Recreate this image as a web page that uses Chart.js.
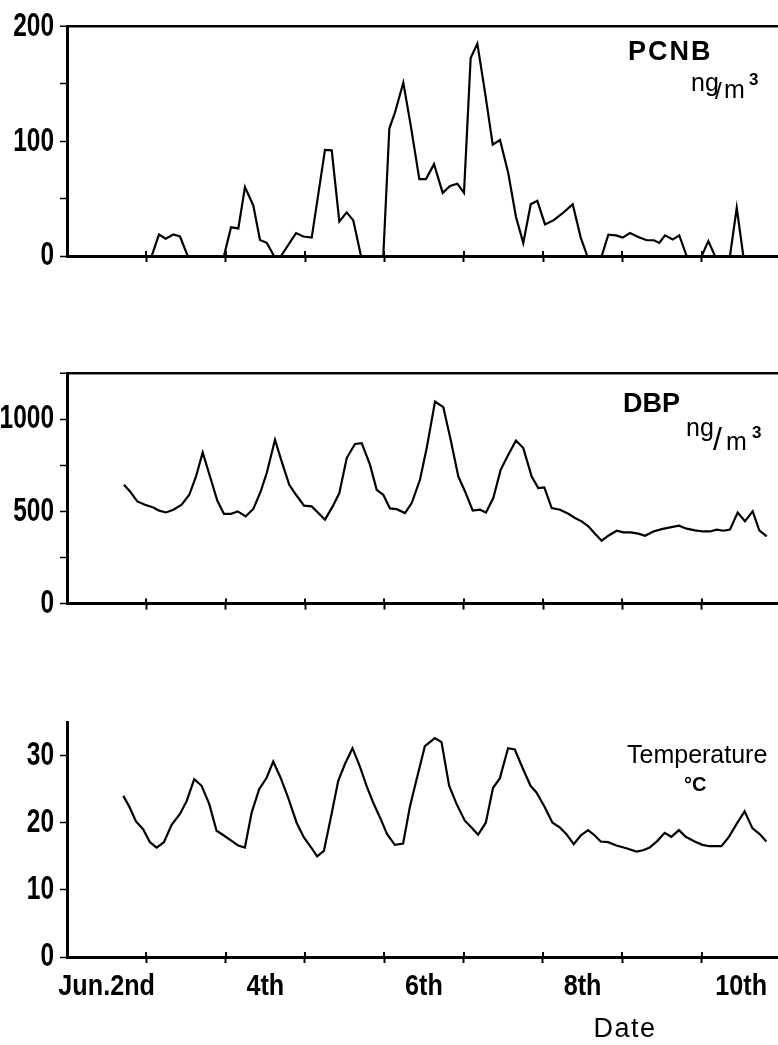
<!DOCTYPE html>
<html><head><meta charset="utf-8">
<script src="https://cdn.jsdelivr.net/npm/chart.js@4.4.0/dist/chart.umd.min.js"></script>
<style>
html,body{margin:0;padding:0;background:#fff;}
#wrap{position:relative;width:778px;height:1045px;overflow:hidden;background:#fff;}
canvas{position:absolute;left:0;}
</style></head><body>
<div id="wrap">
<canvas id="c1" width="778" height="300" style="top:0px"></canvas>
<canvas id="c2" width="778" height="300" style="top:330px"></canvas>
<canvas id="c3" width="778" height="355" style="top:690px"></canvas>
</div>
<script>
// ---- x axis (days of June) ----
const dayTicks = [2, 3, 4, 5, 6, 7, 8, 9, 10];
const dayLabelPos = [2.5, 4.5, 6.5, 8.5, 10.5];
const dayLabels = ['Jun.2nd', '4th', '6th', '8th', '10th'];
const xMin = 2, xMax = 10.96;

// ---- PCNB (ng/m3) ----
const pcnbDays = [2.706,3.067,3.159,3.244,3.340,3.424,3.521,3.978,4.067,4.159,4.243,4.348,4.432,4.517,4.609,4.697,4.886,4.978,5.084,5.251,5.336,5.432,5.525,5.608,5.705,5.986,6.062,6.133,6.238,6.331,6.440,6.524,6.625,6.735,6.827,6.919,7.003,7.087,7.171,7.268,7.365,7.457,7.561,7.658,7.750,7.844,7.927,8.024,8.129,8.234,8.373,8.474,8.557,8.738,8.822,8.918,9.003,9.095,9.200,9.305,9.397,9.464,9.536,9.633,9.716,9.809,9.998,10.082,10.166,10.355,10.440,10.523,10.822];
const pcnbValues = [0,0,18.7,15,18.7,17,0,0,25,24,60,44,14,11.5,0,0,20,17,16,92.5,92,30,38,31,0,0,111,125,151,114,67,67,80,55,61,63,55,172.5,185,142.5,97,101,72,34,11.4,45,48,27.5,31,36.6,45,16,0,0,18.6,18,16,20,16.6,13.7,13.7,11.4,18,14.3,18,0,0,13,0,0,42,0,0];

// ---- DBP (ng/m3) ----
const dbpDays = [2.718,2.794,2.886,2.983,3.088,3.163,3.248,3.340,3.445,3.541,3.626,3.710,3.802,3.894,3.978,4.063,4.151,4.252,4.348,4.441,4.517,4.621,4.706,4.801,4.886,4.987,5.084,5.167,5.251,5.348,5.432,5.525,5.629,5.714,5.818,5.903,5.986,6.070,6.155,6.259,6.344,6.448,6.533,6.638,6.742,6.835,6.931,7.016,7.113,7.205,7.280,7.372,7.465,7.561,7.658,7.750,7.856,7.939,8.015,8.108,8.213,8.318,8.402,8.486,8.570,8.654,8.738,8.822,8.927,9.011,9.104,9.200,9.284,9.389,9.495,9.599,9.712,9.809,9.914,10.019,10.103,10.188,10.271,10.355,10.452,10.544,10.641,10.724,10.818];
const dbpValues = [644,608,554,536,521,504,494,509,536,590,689,819,689,559,486,486,500,473,513,608,708,888,770,644,590,531,527,491,455,527,599,789,865,870,753,617,590,516,512,491,545,671,843,1095,1065,888,689,608,504,509,494,572,725,807,884,843,689,626,630,518,509,487,464,446,419,379,341,368,395,386,386,379,368,391,404,413,422,406,397,391,391,401,395,401,494,446,500,397,364];

// ---- Temperature (deg C) ----
const tempDays = [2.710,2.785,2.870,2.962,3.046,3.130,3.222,3.319,3.424,3.508,3.604,3.697,3.793,3.886,3.978,4.076,4.159,4.243,4.328,4.423,4.517,4.600,4.693,4.789,4.895,4.987,5.084,5.154,5.239,5.336,5.419,5.503,5.600,5.692,5.777,5.860,5.953,6.036,6.133,6.238,6.322,6.398,6.512,6.638,6.722,6.818,6.911,7.016,7.100,7.183,7.280,7.372,7.457,7.561,7.646,7.750,7.844,7.919,8.024,8.121,8.213,8.297,8.389,8.477,8.570,8.654,8.729,8.822,8.927,9.053,9.179,9.263,9.347,9.444,9.536,9.620,9.716,9.801,9.914,10.011,10.103,10.251,10.346,10.447,10.544,10.641,10.733,10.818];
const tempValues = [24.0,22.4,20.2,19.0,17.1,16.3,17.1,19.7,21.3,23.2,26.5,25.5,22.8,18.8,18.1,17.3,16.6,16.3,21.5,25.0,26.7,29.1,26.7,23.7,20.0,17.8,16.2,15.0,15.8,21.3,26.2,28.7,31.1,28.4,25.5,23.0,20.6,18.3,16.7,16.9,22.3,26.0,31.4,32.6,32.0,25.5,22.8,20.3,19.3,18.2,20.0,25.2,26.6,31.1,30.9,28.0,25.5,24.5,22.3,20.0,19.3,18.3,16.8,18.1,18.9,18.1,17.2,17.1,16.6,16.2,15.7,15.9,16.3,17.3,18.5,17.9,18.9,17.9,17.2,16.7,16.5,16.5,17.9,19.9,21.7,19.2,18.3,17.2];

// ---- y axis ticks ----
const pcnbYTicks = [0, 50, 100, 150, 200];
const pcnbYLabels = [0, 100, 200];
const dbpYTicks = [0, 250, 500, 750, 1000, 1250];
const dbpYLabels = [0, 500, 1000];
const tempYTicks = [0, 5, 10, 15, 20, 25, 30, 35];
const tempYLabels = [0, 10, 20, 30];

const SANS = '"Liberation Sans","Helvetica",Arial,sans-serif';

function xy(days, vals){ return days.map((d,i)=>({x:d, y:vals[i]})); }

// squeeze tick label glyphs horizontally (condensed look) around their anchor
function condenseLabels(scale, sx){
  if (scale._condensed) return;
  const orig = scale.drawLabels;
  scale.drawLabels = function(ca){
    const ctx = this.ctx;
    const f = CanvasRenderingContext2D.prototype.fillText;
    ctx.fillText = function(t, x, y){ this.save(); this.translate(x, y); this.scale(sx, 1); f.call(this, t, 0, 0); this.restore(); };
    try { orig.call(this, ca); } finally { delete ctx.fillText; }
  };
  scale._condensed = true;
}

function makeChart(id, days, vals, yTicks, yLabels, opts){
  const yMax = yTicks[yTicks.length-1];
  const xTickVals = opts.showXLabels ? dayTicks.concat(dayLabelPos).sort((a,b)=>a-b) : dayTicks.slice();
  const panelPlugin = {
    id: 'panel_'+id,
    afterLayout(chart){
      condenseLabels(chart.scales.y, 0.72);
      condenseLabels(chart.scales.x, 0.84);
    },
    afterDraw(chart){
      const c = chart.ctx;
      c.save();
      // inner part of the x tick marks (they cross the axis)
      const xs = chart.scales.x;
      c.strokeStyle = '#000'; c.lineWidth = 2;
      dayTicks.forEach(v=>{
        if (v === xMin) return;
        const px = Math.round(xs.getPixelForValue(v));
        c.beginPath(); c.moveTo(px, xs.top); c.lineTo(px, xs.top - 5); c.stroke();
      });
      c.fillStyle = '#000';
      c.textBaseline = 'alphabetic';
      opts.texts.forEach(t=>{
        c.font = t.font;
        c.letterSpacing = t.ls || '0px';
        c.textAlign = t.align || 'left';
        c.fillText(t.text, t.x, t.y);
      });
      c.restore();
    }
  };
  return new Chart(document.getElementById(id), {
    type: 'line',
    data: { datasets: [{
      data: xy(days, vals),
      borderColor: '#000', borderWidth: 2.2, pointRadius: 0, tension: 0, fill: false
    }]},
    options: {
      responsive: false, animation: false, devicePixelRatio: 1,
      layout: { padding: { top: opts.padTop, left: 0, right: 0, bottom: 0 } },
      plugins: { legend: {display:false}, tooltip: {enabled:false}, title:{display:false} },
      scales: {
        x: {
          type: 'linear', min: xMin, max: xMax,
          afterBuildTicks: s => { s.ticks = xTickVals.map(v=>({value:v})); },
          afterFit: s => { s.height = opts.xHeight; },
          ticks: {
            autoSkip: false, maxRotation: 0, minRotation: 0, padding: 6, color: '#000',
            font: { family: SANS, size: 30, weight: 'bold' },
            callback: v => { const i = dayLabelPos.indexOf(v); return (opts.showXLabels && i >= 0) ? dayLabels[i] : ''; }
          },
          grid: {
            display: true, drawOnChartArea: false, drawTicks: true, tickLength: 6, tickWidth: 2,
            color: 'rgba(0,0,0,0)',
            tickColor: ctx => (ctx.tick && Number.isInteger(ctx.tick.value) && ctx.tick.value > xMin) ? '#000' : 'rgba(0,0,0,0)'
          },
          border: { display: true, color: '#000', width: 3 }
        },
        y: {
          min: 0, max: yMax,
          afterBuildTicks: s => { s.ticks = yTicks.map(v=>({value:v})); },
          afterFit: s => { s.width = 67; },
          ticks: {
            padding: 6, color: '#000',
            font: { family: SANS, size: 34, weight: 'bold' },
            callback: v => yLabels.includes(v) ? String(v) : ''
          },
          grid: {
            display: true, drawOnChartArea: true, drawTicks: true, tickLength: 7, tickWidth: 1.5,
            color: ctx => (ctx.tick && ctx.tick.value === yMax) ? '#000' : 'rgba(0,0,0,0)',
            lineWidth: ctx => (ctx.tick && ctx.tick.value === yMax) ? 2.5 : 1,
            tickColor: '#000'
          },
          border: { display: true, color: '#000', width: 3 }
        }
      }
    },
    plugins: [panelPlugin]
  });
}

makeChart('c1', pcnbDays, pcnbValues, pcnbYTicks, pcnbYLabels, {
  padTop: 24, xHeight: 44, showXLabels: false,
  texts: [
    {text:'PCNB', x:628, y:60, font:'bold 27px '+SANS, ls:'2px'},
    {text:'ng', x:691, y:91, font:'25px '+SANS},
    {text:'/', x:715, y:99, font:'24px '+SANS},
    {text:'m', x:724, y:98, font:'25px '+SANS},
    {text:'3', x:749, y:85, font:'bold 17px '+SANS}
  ]
});
makeChart('c2', dbpDays, dbpValues, dbpYTicks, dbpYLabels, {
  padTop: 43, xHeight: 26, showXLabels: false,
  texts: [
    {text:'DBP', x:623, y:82, font:'bold 27px '+SANS},
    {text:'ng', x:686, y:106, font:'25px '+SANS},
    {text:'/', x:713, y:120, font:'32px '+SANS},
    {text:'m', x:726, y:120, font:'25px '+SANS},
    {text:'3', x:752, y:108, font:'bold 17px '+SANS}
  ]
});
makeChart('c3', tempDays, tempValues, tempYTicks, tempYLabels, {
  padTop: 32, xHeight: 88, showXLabels: true,
  texts: [
    {text:'Temperature', x:627, y:73, font:'25px '+SANS},
    {text:'°C', x:684, y:101, font:'bold 20px '+SANS},
    {text:'Date', x:625, y:347, font:'27px '+SANS, align:'center', ls:'1.5px'}
  ]
});
</script>
</body></html>
